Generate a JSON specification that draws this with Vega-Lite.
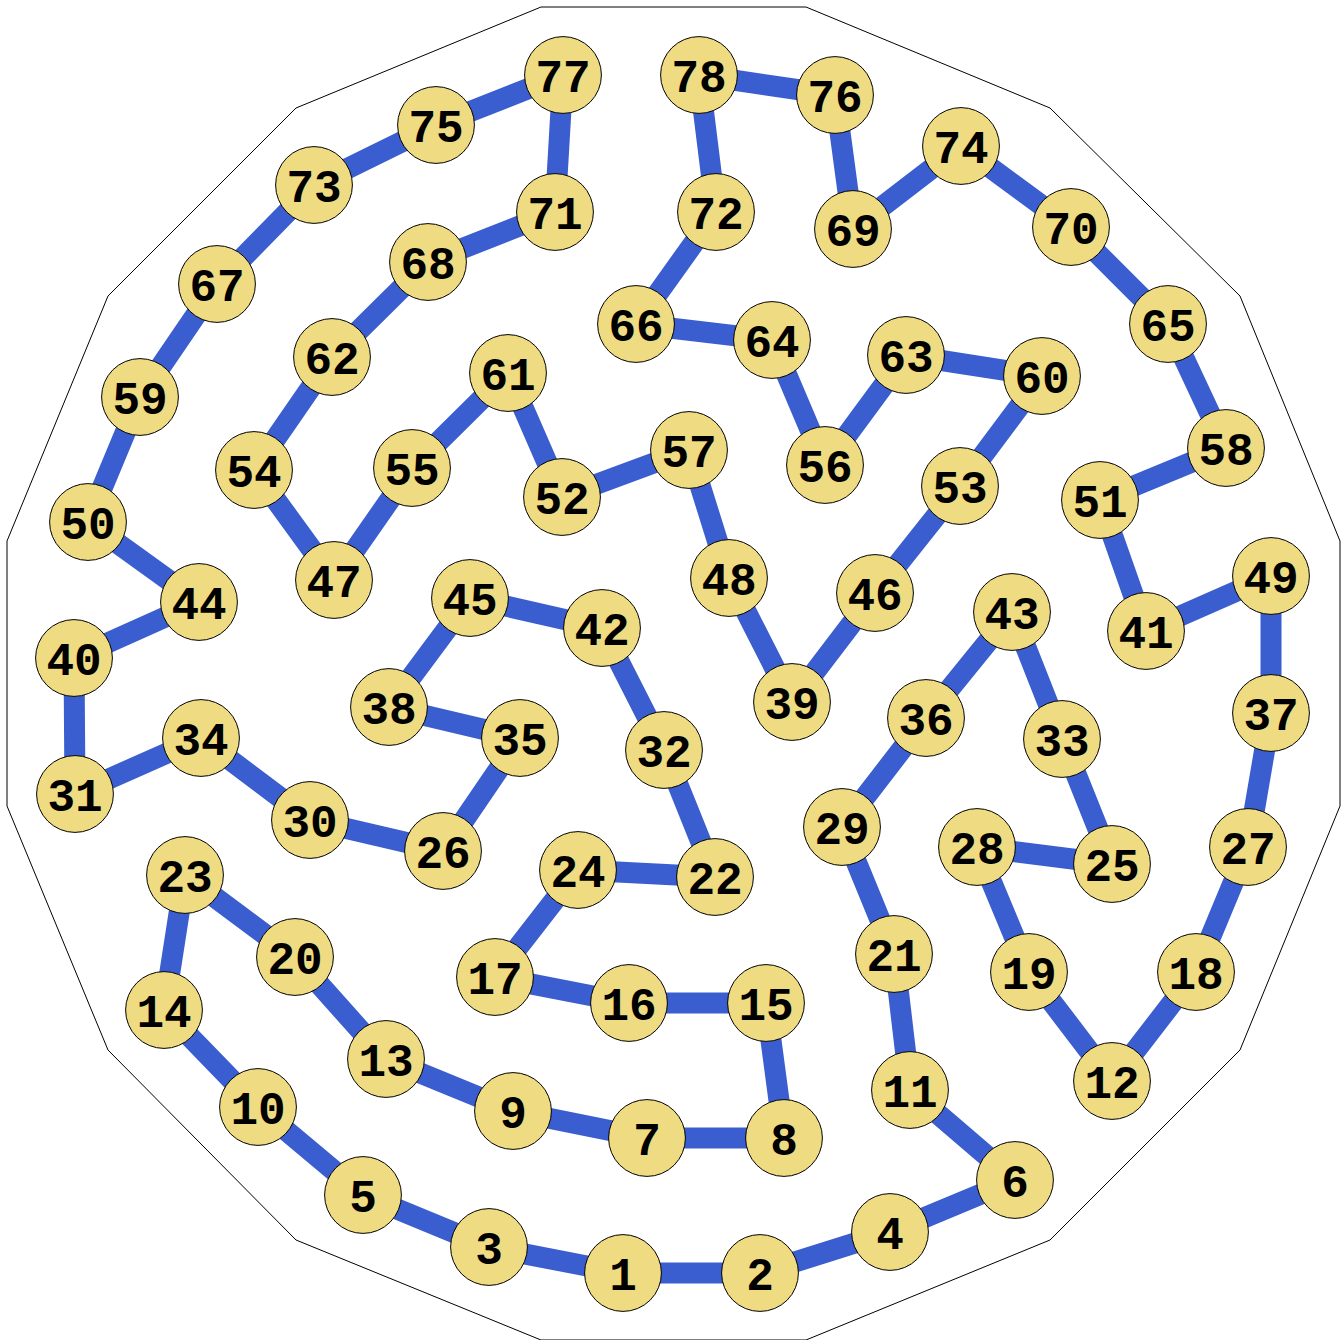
{
  "$schema": "https://vega.github.io/schema/vega-lite/v6.json",
  "width": 1344,
  "height": 1340,
  "padding": 0,
  "autosize": {"type": "none"},
  "background": "white",
  "config": {"view": {"stroke": null}},
  "datasets": {
    "nodes": [
      {"n":1,"x":623,"y":1273},{"n":2,"x":760,"y":1273},{"n":3,"x":489,"y":1247},{"n":4,"x":890,"y":1232},
      {"n":5,"x":363,"y":1195},{"n":6,"x":1015,"y":1180},{"n":7,"x":647,"y":1138},{"n":8,"x":784,"y":1138},
      {"n":9,"x":513,"y":1111},{"n":10,"x":258,"y":1107},{"n":11,"x":910,"y":1090},{"n":12,"x":1112,"y":1081},
      {"n":13,"x":386,"y":1059},{"n":14,"x":164,"y":1010},{"n":15,"x":766,"y":1003},{"n":16,"x":629,"y":1003},
      {"n":17,"x":495,"y":977},{"n":18,"x":1196,"y":972},{"n":19,"x":1029,"y":972},{"n":20,"x":295,"y":957},
      {"n":21,"x":894,"y":954},{"n":22,"x":715,"y":877},{"n":23,"x":185,"y":875},{"n":24,"x":578,"y":870},
      {"n":25,"x":1112,"y":864},{"n":26,"x":443,"y":851},{"n":27,"x":1248,"y":847},{"n":28,"x":977,"y":847},
      {"n":29,"x":842,"y":827},{"n":30,"x":310,"y":820},{"n":31,"x":75,"y":794},{"n":32,"x":664,"y":750},
      {"n":33,"x":1062,"y":739},{"n":34,"x":201,"y":738},{"n":35,"x":520,"y":738},{"n":36,"x":926,"y":718},
      {"n":37,"x":1271,"y":713},{"n":38,"x":389,"y":707},{"n":39,"x":792,"y":702},{"n":40,"x":74,"y":658},
      {"n":41,"x":1146,"y":631},{"n":42,"x":602,"y":628},{"n":43,"x":1012,"y":612},{"n":44,"x":199,"y":602},
      {"n":45,"x":470,"y":598},{"n":46,"x":875,"y":593},{"n":47,"x":334,"y":580},{"n":48,"x":729,"y":578},
      {"n":49,"x":1271,"y":576},{"n":50,"x":88,"y":522},{"n":51,"x":1100,"y":500},{"n":52,"x":562,"y":497},
      {"n":53,"x":960,"y":486},{"n":54,"x":254,"y":470},{"n":55,"x":412,"y":468},{"n":56,"x":825,"y":465},
      {"n":57,"x":689,"y":450},{"n":58,"x":1226,"y":448},{"n":59,"x":140,"y":397},{"n":60,"x":1042,"y":376},
      {"n":61,"x":508,"y":373},{"n":62,"x":332,"y":357},{"n":63,"x":906,"y":355},{"n":64,"x":772,"y":340},
      {"n":65,"x":1168,"y":324},{"n":66,"x":636,"y":324},{"n":67,"x":217,"y":284},{"n":68,"x":428,"y":262},
      {"n":69,"x":853,"y":229},{"n":70,"x":1071,"y":227},{"n":71,"x":555,"y":212},{"n":72,"x":716,"y":212},
      {"n":73,"x":314,"y":185},{"n":74,"x":961,"y":146},{"n":75,"x":436,"y":125},{"n":76,"x":835,"y":95},
      {"n":77,"x":563,"y":75},{"n":78,"x":699,"y":75}
    ],
    "path": [
      {"s":0,"n":1},{"s":1,"n":2},{"s":2,"n":4},{"s":3,"n":6},{"s":4,"n":11},{"s":5,"n":21},{"s":6,"n":29},{"s":7,"n":36},
      {"s":8,"n":43},{"s":9,"n":33},{"s":10,"n":25},{"s":11,"n":28},{"s":12,"n":19},{"s":13,"n":12},{"s":14,"n":18},{"s":15,"n":27},
      {"s":16,"n":37},{"s":17,"n":49},{"s":18,"n":41},{"s":19,"n":51},{"s":20,"n":58},{"s":21,"n":65},{"s":22,"n":70},{"s":23,"n":74},
      {"s":24,"n":69},{"s":25,"n":76},{"s":26,"n":78},{"s":27,"n":72},{"s":28,"n":66},{"s":29,"n":64},{"s":30,"n":56},{"s":31,"n":63},
      {"s":32,"n":60},{"s":33,"n":53},{"s":34,"n":46},{"s":35,"n":39},{"s":36,"n":48},{"s":37,"n":57},{"s":38,"n":52},{"s":39,"n":61},
      {"s":40,"n":55},{"s":41,"n":47},{"s":42,"n":54},{"s":43,"n":62},{"s":44,"n":68},{"s":45,"n":71},{"s":46,"n":77},{"s":47,"n":75},
      {"s":48,"n":73},{"s":49,"n":67},{"s":50,"n":59},{"s":51,"n":50},{"s":52,"n":44},{"s":53,"n":40},{"s":54,"n":31},{"s":55,"n":34},
      {"s":56,"n":30},{"s":57,"n":26},{"s":58,"n":35},{"s":59,"n":38},{"s":60,"n":45},{"s":61,"n":42},{"s":62,"n":32},{"s":63,"n":22},
      {"s":64,"n":24},{"s":65,"n":17},{"s":66,"n":16},{"s":67,"n":15},{"s":68,"n":8},{"s":69,"n":7},{"s":70,"n":9},{"s":71,"n":13},
      {"s":72,"n":20},{"s":73,"n":23},{"s":74,"n":14},{"s":75,"n":10},{"s":76,"n":5},{"s":77,"n":3},{"s":78,"n":1}
    ],
    "border": [
      {"k":0,"x":541,"y":7},{"k":1,"x":806,"y":7},{"k":2,"x":1050,"y":108},{"k":3,"x":1240,"y":296},
      {"k":4,"x":1340,"y":541},{"k":5,"x":1340,"y":806},{"k":6,"x":1240,"y":1050},{"k":7,"x":1050,"y":1240},
      {"k":8,"x":806,"y":1340},{"k":9,"x":541,"y":1340},{"k":10,"x":296,"y":1240},{"k":11,"x":108,"y":1050},
      {"k":12,"x":7,"y":806},{"k":13,"x":7,"y":541},{"k":14,"x":108,"y":296},{"k":15,"x":296,"y":108},
      {"k":16,"x":541,"y":7}
    ]
  },
  "resolve": {"scale": {"x": "shared", "y": "shared"}},
  "layer": [
    {
      "data": {"name": "border"},
      "mark": {"type": "line", "stroke": "black", "strokeWidth": 1, "clip": false},
      "encoding": {
        "x": {"field": "x", "type": "quantitative", "scale": {"domain": [0, 1344], "nice": false, "zero": false}, "axis": null},
        "y": {"field": "y", "type": "quantitative", "scale": {"domain": [0, 1340], "nice": false, "zero": false, "reverse": true}, "axis": null},
        "order": {"field": "k", "type": "quantitative"}
      }
    },
    {
      "data": {"name": "path"},
      "transform": [{"lookup": "n", "from": {"data": {"name": "nodes"}, "key": "n", "fields": ["x", "y"]}}],
      "mark": {"type": "line", "stroke": "#3A5ECF", "strokeWidth": 21, "strokeJoin": "round", "strokeCap": "round"},
      "encoding": {
        "x": {"field": "x", "type": "quantitative"},
        "y": {"field": "y", "type": "quantitative"},
        "order": {"field": "s", "type": "quantitative"}
      }
    },
    {
      "data": {"name": "nodes"},
      "mark": {"type": "circle", "size": 5900, "fill": "#EEDB82", "stroke": "black", "strokeWidth": 1, "opacity": 1, "fillOpacity": 1},
      "encoding": {
        "x": {"field": "x", "type": "quantitative"},
        "y": {"field": "y", "type": "quantitative"}
      }
    },
    {
      "data": {"name": "nodes"},
      "mark": {"type": "text", "font": "Liberation Mono", "fontWeight": "bold", "fontSize": 46, "align": "center", "baseline": "middle", "dy": 3, "color": "black"},
      "encoding": {
        "x": {"field": "x", "type": "quantitative"},
        "y": {"field": "y", "type": "quantitative"},
        "text": {"field": "n", "type": "nominal"}
      }
    }
  ]
}
